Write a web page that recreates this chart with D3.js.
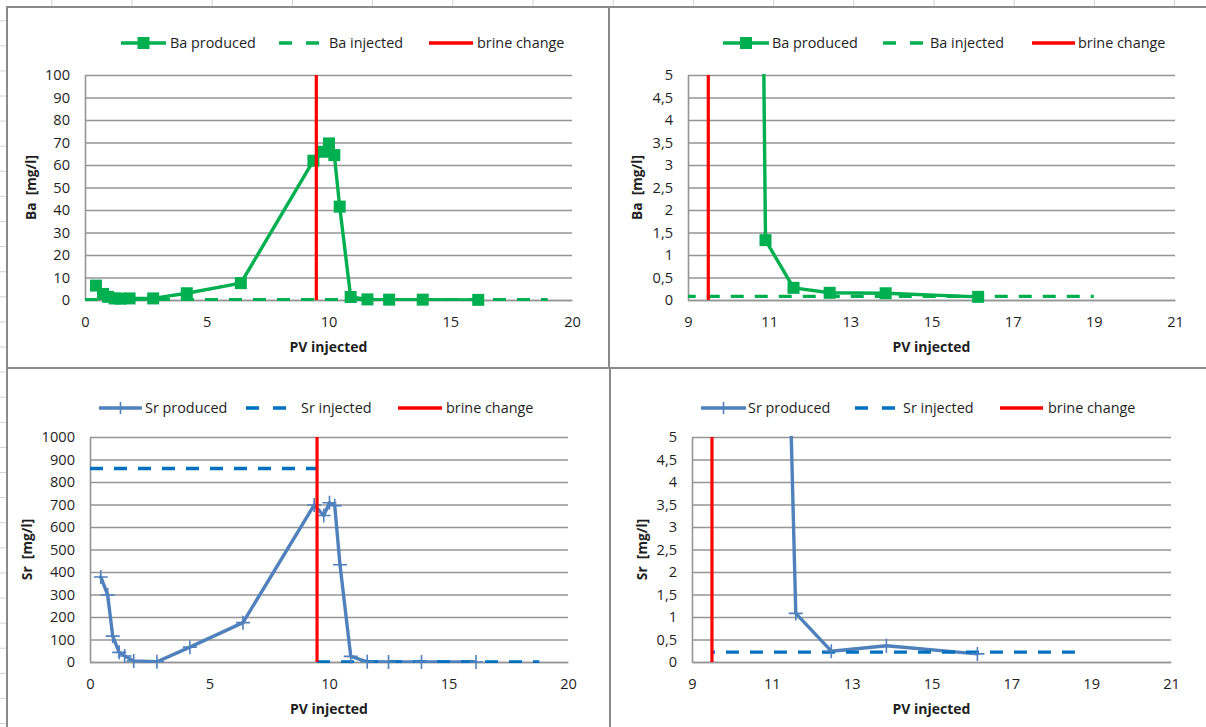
<!DOCTYPE html>
<html>
<head>
<meta charset="utf-8">
<script src="https://cdn.jsdelivr.net/npm/d3@7"></script>
<style>
  body { margin: 0; background: #fff; }
  svg { display: block; font-family: "Open Sans", "Liberation Sans", sans-serif; }
</style>
</head>
<body>
<svg id="chart" width="1206" height="727"></svg>
<script>
// Pore volumes injected at each effluent sample
const pvSampled = [0.45, 0.74, 0.95, 1.22, 1.45, 1.83, 2.8, 4.18, 6.4, 9.38, 9.78, 10.02, 10.24, 10.46, 10.91, 11.6, 12.49, 13.87, 16.15];

// Measured effluent concentrations [mg/l]
const baProduced = [6.4, 2.7, 1.4, 0.7, 0.6, 0.7, 0.7, 3.0, 7.5, 61.9, 65.9, 69.6, 64.4, 41.5, 1.33, 0.27, 0.16, 0.15, 0.07];
const srProduced = [378, 298, 115, 43, 27, 5, 1, 66, 175, 698, 651, 708, 695, 432, 25, 1.08, 0.24, 0.36, 0.18];

// Injected brine concentrations [mg/l] (null marks a break in the line)
const baInjectedPV = [0, 19];
const baInjected = [0.08, 0.08];
const srInjectedPV = [0, 9.5, 9.5, 9.5, 18.8];
const srInjected = [860, 860, null, 0.22, 0.22];

// Pore volume at which the injected brine was switched
const brineChangePV = 9.5;

// Axis ticks
const pvTicksFull = [0, 5, 10, 15, 20];
const pvTicksZoom = [9, 11, 13, 15, 17, 19, 21];
const baTicksFull = [0, 10, 20, 30, 40, 50, 60, 70, 80, 90, 100];
const srTicksFull = [0, 100, 200, 300, 400, 500, 600, 700, 800, 900, 1000];
const lowTicksZoom = [0, 0.5, 1, 1.5, 2, 2.5, 3, 3.5, 4, 4.5, 5];

const GREEN = "#00b050";
const STEEL = "#4f81bd";
const BLUE = "#0070c0";
const RED = "#ff0000";
const GRID = "#959595";
const TEXT = "#1e1e1e";

const commaFmt = d3.formatLocale({ decimal: ",", thousands: ".", grouping: [3], currency: ["", ""] }).format("~g");

const svg = d3.select("#chart");

// Faint worksheet cell grid behind the chart frames
const sheet = svg.append("g");
d3.range(51.8, 1206, 80.2).forEach(xv => sheet.append("line")
  .attr("x1", xv).attr("x2", xv).attr("y1", 0).attr("y2", 727)
  .attr("stroke", "#d4d4d4").attr("stroke-width", 1));
d3.range(20.7, 727, 25.1).forEach(yv => sheet.append("line")
  .attr("x1", 0).attr("x2", 1206).attr("y1", yv).attr("y2", yv)
  .attr("stroke", "#d4d4d4").attr("stroke-width", 1));

function pairs(xs, ys) { return xs.map((v, i) => ({ x: v, y: ys[i] })); }

let clipId = 0;

function drawChart(cfg) {
  const g = svg.append("g");
  const f = cfg.frame;
  g.append("rect")
    .attr("x", f.x).attr("y", f.y).attr("width", f.w).attr("height", f.h)
    .attr("fill", "#fff").attr("stroke", "#8a8a8a").attr("stroke-width", 2);

  const p = cfg.plot;
  const x = d3.scaleLinear().domain(cfg.xDomain).range([p.left, p.right]);
  const y = d3.scaleLinear().domain(cfg.yDomain).range([p.bottom, p.top]);

  // Horizontal gridlines with value labels
  const yAxis = g.append("g")
    .attr("transform", `translate(${p.left},0)`)
    .call(d3.axisLeft(y).tickValues(cfg.yTicks).tickSize(-(p.right - p.left))
      .tickSizeOuter(0).tickPadding(15).tickFormat(cfg.yFormat));
  yAxis.select(".domain").attr("stroke", GRID).attr("stroke-width", 1.6);
  yAxis.selectAll(".tick line").attr("stroke", GRID).attr("stroke-width", 1.6);
  yAxis.selectAll(".tick text").attr("fill", TEXT).style("font-size", "14.6px")
    .style("font-family", "'Open Sans', sans-serif");

  // Category axis labels
  const xAxis = g.append("g")
    .attr("transform", `translate(0,${p.bottom})`)
    .call(d3.axisBottom(x).tickValues(cfg.xTicks).tickSize(0).tickSizeOuter(0).tickPadding(17)
      .tickFormat(d3.format("d")));
  xAxis.select(".domain").attr("stroke", GRID).attr("stroke-width", 1.6);
  xAxis.selectAll(".tick text").attr("fill", TEXT).style("font-size", "14.6px")
    .style("font-family", "'Open Sans', sans-serif");

  // Axis titles
  g.append("text")
    .attr("x", (p.left + p.right) / 2).attr("y", p.bottom + 52)
    .attr("text-anchor", "middle").attr("fill", TEXT)
    .style("font-size", "14px").style("font-weight", "bold")
    .text("PV injected");
  g.append("text")
    .attr("transform", `translate(${cfg.yTitleX},${(p.top + p.bottom) / 2}) rotate(-90)`)
    .attr("text-anchor", "middle").attr("dy", "0.36em").attr("fill", TEXT)
    .style("font-size", "13.8px").style("font-weight", "bold").style("white-space", "pre")
    .text(cfg.yTitle);

  // Clip region for the plotted lines
  const id = "plotclip" + (clipId++);
  g.append("clipPath").attr("id", id).append("rect")
    .attr("x", p.left).attr("y", p.top - 1).attr("width", p.right - p.left).attr("height", p.bottom - p.top + 2);
  const plotArea = g.append("g").attr("clip-path", `url(#${id})`);

  const line = d3.line().defined(d => d.y !== null).x(d => x(d.x)).y(d => y(d.y));

  // Produced series
  const produced = pairs(pvSampled, cfg.produced);
  plotArea.append("path").datum(produced)
    .attr("d", line).attr("fill", "none")
    .attr("stroke", cfg.producedColor).attr("stroke-width", 3.4)
    .attr("stroke-linejoin", "round").attr("stroke-linecap", "round");

  const inDomain = produced.filter(d => d.y <= cfg.yDomain[1] && d.x >= cfg.xDomain[0] && d.x <= cfg.xDomain[1]);
  const marks = g.append("g");
  if (cfg.marker === "square") {
    marks.selectAll("rect").data(inDomain).join("rect")
      .attr("x", d => x(d.x) - 6).attr("y", d => y(d.y) - 6)
      .attr("width", 12).attr("height", 12).attr("fill", cfg.producedColor);
  } else {
    marks.selectAll("path").data(inDomain).join("path")
      .attr("d", d => {
        const cx = x(d.x), cy = y(d.y);
        return `M${cx - 7},${cy}H${cx + 7}M${cx},${cy - 7}V${cy + 7}`;
      })
      .attr("stroke", cfg.producedColor).attr("stroke-width", 1.6).attr("fill", "none");
  }

  // Injected series (dashed)
  plotArea.append("path").datum(pairs(cfg.injectedPV, cfg.injected))
    .attr("d", line).attr("fill", "none")
    .attr("stroke", cfg.injectedColor).attr("stroke-width", 3.4)
    .attr("stroke-dasharray", "13,11").attr("stroke-dashoffset", cfg.dashOffset || 0);

  // Brine change marker
  g.append("line")
    .attr("x1", x(brineChangePV)).attr("x2", x(brineChangePV))
    .attr("y1", y(cfg.yDomain[0])).attr("y2", y(cfg.yDomain[1]))
    .attr("stroke", RED).attr("stroke-width", 3.2);

  // Legend
  const L = cfg.legend;
  const lg = g.append("g").style("font-size", "14.4px").attr("fill", TEXT);
  // produced
  lg.append("line").attr("x1", L[0][0]).attr("x2", L[0][1]).attr("y1", L.y).attr("y2", L.y)
    .attr("stroke", cfg.producedColor).attr("stroke-width", 3.6);
  const mx = (L[0][0] + L[0][1]) / 2;
  if (cfg.marker === "square") {
    lg.append("rect").attr("x", mx - 6).attr("y", L.y - 6).attr("width", 12).attr("height", 12)
      .attr("fill", cfg.producedColor);
  } else {
    lg.append("path").attr("d", `M${mx},${L.y - 6}V${L.y + 6}`)
      .attr("stroke", cfg.producedColor).attr("stroke-width", 1.6);
  }
  lg.append("text").attr("x", L[0][2]).attr("y", L.y).attr("dy", "0.36em").text(cfg.names[0]);
  // injected
  lg.append("line").attr("x1", L[1][0]).attr("x2", L[1][1]).attr("y1", L.y).attr("y2", L.y)
    .attr("stroke", cfg.injectedColor).attr("stroke-width", 3.6).attr("stroke-dasharray", "13,14");
  lg.append("text").attr("x", L[1][2]).attr("y", L.y).attr("dy", "0.36em").text(cfg.names[1]);
  // brine change
  lg.append("line").attr("x1", L[2][0]).attr("x2", L[2][1]).attr("y1", L.y).attr("y2", L.y)
    .attr("stroke", RED).attr("stroke-width", 3.6);
  lg.append("text").attr("x", L[2][2]).attr("y", L.y).attr("dy", "0.36em").text("brine change");
}

function legendAt(y, a, b, c) { const l = [a, b, c]; l.y = y; return l; }

const intFmt = d3.format("d");

// Barium, full range
drawChart({
  frame: { x: 7, y: 7, w: 602, h: 361 },
  plot: { left: 85, right: 572, top: 75, bottom: 300 },
  xDomain: [0, 20], xTicks: pvTicksFull,
  yDomain: [0, 100], yTicks: baTicksFull, yFormat: intFmt,
  yTitle: "Ba  [mg/l]", yTitleX: 31,
  produced: baProduced, producedColor: GREEN, marker: "square",
  injectedPV: baInjectedPV, injected: baInjected, injectedColor: GREEN,
  names: ["Ba produced", "Ba injected"],
  legend: legendAt(43, [121, 166, 170], [279, 320, 329], [429, 473, 477])
});

// Barium, low concentrations after the brine change
drawChart({
  frame: { x: 609, y: 7, w: 620, h: 361 },
  plot: { left: 688, right: 1175, top: 75, bottom: 300 },
  xDomain: [9, 21], xTicks: pvTicksZoom,
  yDomain: [0, 5], yTicks: lowTicksZoom, yFormat: commaFmt,
  yTitle: "Ba  [mg/l]", yTitleX: 637,
  produced: baProduced, producedColor: GREEN, marker: "square",
  injectedPV: baInjectedPV, injected: baInjected, injectedColor: GREEN,
  names: ["Ba produced", "Ba injected"],
  legend: legendAt(43, [723, 769, 772], [883, 923, 930], [1032, 1075, 1078])
});

// Strontium, full range
drawChart({
  frame: { x: 7, y: 368, w: 603, h: 380 },
  plot: { left: 90, right: 568, top: 437, bottom: 662 },
  xDomain: [0, 20], xTicks: pvTicksFull,
  yDomain: [0, 1000], yTicks: srTicksFull, yFormat: intFmt,
  yTitle: "Sr  [mg/l]", yTitleX: 27,
  produced: srProduced, producedColor: STEEL, marker: "plus",
  injectedPV: srInjectedPV, injected: srInjected, injectedColor: BLUE,
  names: ["Sr produced", "Sr injected"],
  legend: legendAt(408, [99, 142, 145], [246, 293, 301], [398, 442, 446])
});

// Strontium, low concentrations after the brine change
drawChart({
  frame: { x: 610, y: 368, w: 620, h: 380 },
  plot: { left: 692, right: 1171, top: 437, bottom: 662 },
  xDomain: [9, 21], xTicks: pvTicksZoom,
  yDomain: [0, 5], yTicks: lowTicksZoom, yFormat: commaFmt,
  yTitle: "Sr  [mg/l]", yTitleX: 642,
  produced: srProduced, producedColor: STEEL, marker: "plus",
  injectedPV: srInjectedPV, injected: srInjected, injectedColor: BLUE,
  dashOffset: 10,
  names: ["Sr produced", "Sr injected"],
  legend: legendAt(408, [701, 746, 748], [855, 896, 903], [1000, 1043, 1048])
});
</script>
</body>
</html>
